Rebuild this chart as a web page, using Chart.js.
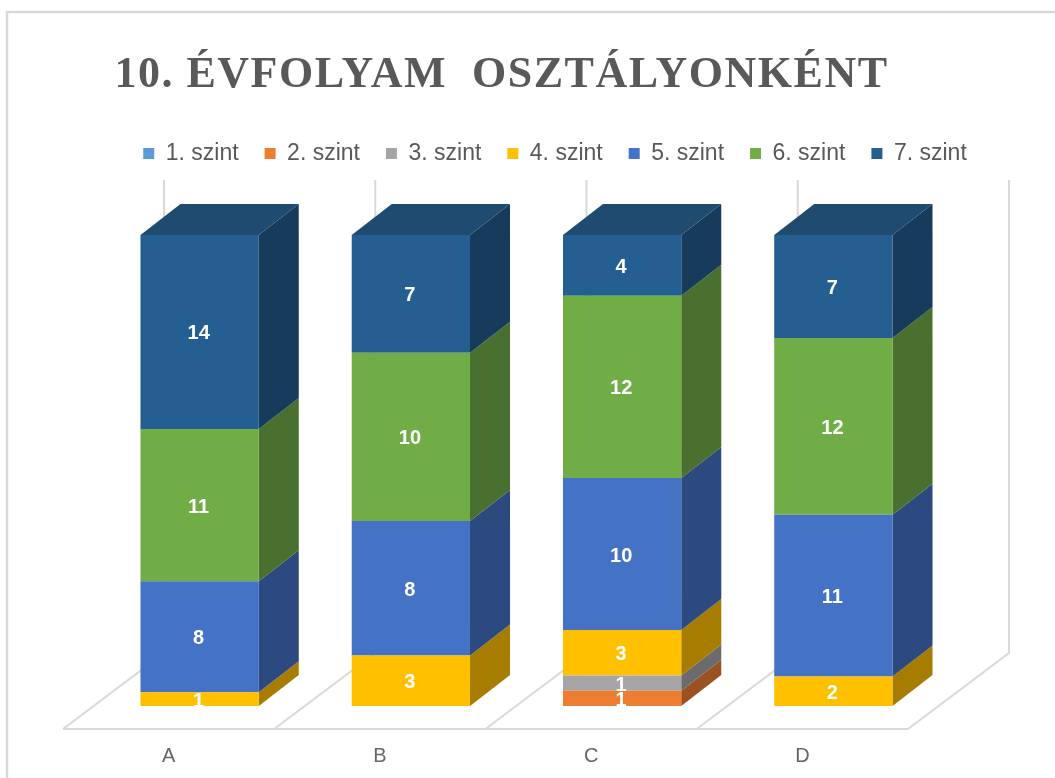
<!DOCTYPE html>
<html>
<head>
<meta charset="utf-8">
<title>10. évfolyam osztályonként</title>
<script src="https://cdn.jsdelivr.net/npm/chart.js@4/dist/chart.umd.min.js"></script>
<style>
    html, body { margin: 0; padding: 0; background: #fff; }
    canvas { display: block; }
</style>
</head>
<body>
<canvas id="myChart" width="1055" height="778"></canvas>
<script>
var titleText = "10. ÉVFOLYAM  OSZTÁLYONKÉNT";
var categories = ["A", "B", "C", "D"];
var seriesNames = ["1. szint", "2. szint", "3. szint", "4. szint", "5. szint", "6. szint", "7. szint"];

var szint1 = [0, 0, 0, 0];
var szint2 = [0, 0, 1, 0];
var szint3 = [0, 0, 1, 0];
var szint4 = [1, 3, 3, 2];
var szint5 = [8, 8, 10, 11];
var szint6 = [11, 10, 12, 12];
var szint7 = [14, 7, 4, 7];

var frontColors = ["#5B9BD5", "#ED7D31", "#A5A5A5", "#FFC000", "#4472C4", "#70AD47", "#255E91"];
var sideColors = ["#3B6C9A", "#9C5122", "#6B6B6B", "#A67D00", "#2C4A80", "#49702E", "#163B5B"];
var topColor = "#1F4B71";

var allSeries = [szint1, szint2, szint3, szint4, szint5, szint6, szint7];

// every column is 100%, the labels still show the head count
var totals = categories.map(function (c, i) {
    return allSeries.reduce(function (sum, s) { return sum + s[i]; }, 0);
});

var barShiftX = 31, barShiftY = -23;   // bars stand in the middle of the floor
var depthX = 40, depthY = -31;         // bar depth
var floorX = 101, floorY = -76;        // floor depth
var wallTop = 180;
var gridColor = "#D9D9D9";

var threeD = {
    id: "threeD",
    beforeDraw: function (chart) {
        var ctx = chart.ctx;
        var area = chart.chartArea;
        ctx.save();
        ctx.fillStyle = "#fff";
        ctx.fillRect(0, 0, chart.width, chart.height);

        // frame, the picture is cut on the right and at the bottom
        ctx.strokeStyle = gridColor;
        ctx.lineWidth = 2.5;
        ctx.beginPath();
        ctx.moveTo(7, chart.height);
        ctx.lineTo(7, 12);
        ctx.lineTo(chart.width, 12);
        ctx.stroke();

        // floor and back wall
        var step = (area.right - area.left) / categories.length;
        ctx.lineWidth = 2;
        for (var i = 0; i <= categories.length; i++) {
            var x = area.left + step * i;
            ctx.beginPath();
            ctx.moveTo(x, area.bottom);
            ctx.lineTo(x + floorX, area.bottom + floorY);
            ctx.lineTo(x + floorX, wallTop);
            ctx.stroke();
        }
        ctx.beginPath();
        ctx.moveTo(area.left, area.bottom);
        ctx.lineTo(area.right, area.bottom);
        ctx.stroke();
        ctx.restore();
    },
    afterLayout: function (chart) {
        // title and legend are not centred on the plot
        chart.titleBlock.left = 0;
        chart.titleBlock.right = 1003;
        chart.titleBlock.top = 49;
        chart.titleBlock.bottom = 102;
        chart.legend.left = 0;
        chart.legend.right = 1110;
        chart.legend.top = 116;
        chart.legend.bottom = 197;

        if (!chart.titleBlock.spaced) {
            var drawTitle = chart.titleBlock.draw;
            chart.titleBlock.spaced = true;
            chart.titleBlock.draw = function () {
                chart.ctx.save();
                chart.ctx.letterSpacing = "1.5px";
                drawTitle.apply(this, arguments);
                chart.ctx.restore();
            };
        }
    },
    beforeDatasetsDraw: function (chart) {
        var ctx = chart.ctx;
        ctx.save();
        ctx.translate(barShiftX, barShiftY);

        chart.data.datasets.forEach(function (ds, d) {
            chart.getDatasetMeta(d).data.forEach(function (bar, i) {
                if (!ds.data[i]) return;
                var right = bar.x + bar.width / 2;
                ctx.fillStyle = sideColors[d];
                ctx.beginPath();
                ctx.moveTo(right, bar.base);
                ctx.lineTo(right + depthX, bar.base + depthY);
                ctx.lineTo(right + depthX, bar.y + depthY);
                ctx.lineTo(right, bar.y);
                ctx.closePath();
                ctx.fill();
            });
        });

        // top of the last series
        chart.getDatasetMeta(chart.data.datasets.length - 1).data.forEach(function (bar) {
            var left = bar.x - bar.width / 2;
            var right = bar.x + bar.width / 2;
            ctx.fillStyle = topColor;
            ctx.beginPath();
            ctx.moveTo(left, bar.y);
            ctx.lineTo(right, bar.y);
            ctx.lineTo(right + depthX, bar.y + depthY);
            ctx.lineTo(left + depthX, bar.y + depthY);
            ctx.closePath();
            ctx.fill();
        });
    },
    afterDatasetsDraw: function (chart) {
        var ctx = chart.ctx;
        ctx.fillStyle = "#fff";
        ctx.font = "bold 20px 'Liberation Sans'";
        ctx.textAlign = "center";
        ctx.textBaseline = "middle";
        allSeries.forEach(function (values, d) {
            chart.getDatasetMeta(d).data.forEach(function (bar, i) {
                if (!values[i]) return;
                ctx.fillText(values[i], bar.x - 1, (bar.y + bar.base) / 2 + 2);
            });
        });
        ctx.restore();
    }
};

var myChart = new Chart("myChart", {
    type: "bar",
    plugins: [threeD],
    data: {
        labels: categories,
        datasets: seriesNames.map(function (name, d) {
            return {
                label: name,
                data: allSeries[d].map(function (v, i) { return v / totals[i] * 100; }),
                backgroundColor: frontColors[d],
                borderWidth: 0,
                categoryPercentage: 1,
                barPercentage: 0.56
            };
        })
    },
    options: {
        responsive: false,
        animation: false,
        layout: { padding: { top: 146.2 } },
        scales: {
            x: {
                stacked: true,
                grid: { display: false },
                border: { display: false },
                ticks: {
                    color: "#666666",
                    padding: 7,
                    maxRotation: 0,
                    font: { family: "'Liberation Sans'", size: 20 }
                },
                afterFit: function (scale) { scale.height = 49; }
            },
            y: {
                stacked: true,
                min: 0,
                max: 100,
                position: "left",
                grid: { display: false },
                border: { display: false },
                ticks: { display: false },
                afterFit: function (scale) { scale.width = 63; }
            },
            rightGap: {
                position: "right",
                grid: { display: false },
                border: { display: false },
                ticks: { display: false },
                afterFit: function (scale) { scale.width = 147; }
            }
        },
        plugins: {
            tooltip: { enabled: false },
            title: {
                display: true,
                text: titleText,
                color: "#595959",
                padding: 0,
                font: { family: "'Liberation Serif'", size: 44, weight: "bold" }
            },
            legend: {
                display: true,
                position: "top",
                labels: {
                    color: "#595959",
                    boxWidth: 11,
                    boxHeight: 11,
                    padding: 26,
                    font: { family: "'Liberation Sans'", size: 23 }
                }
            }
        }
    }
});
</script>
</body>
</html>
